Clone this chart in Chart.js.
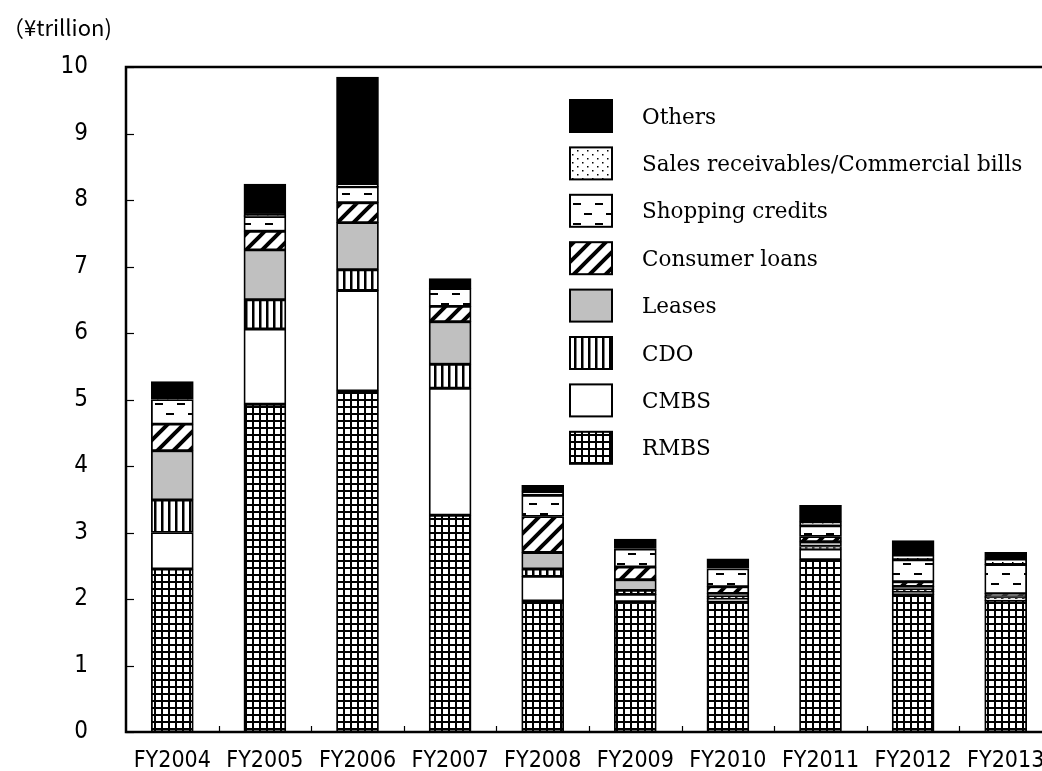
<!DOCTYPE html>
<html>
<head>
<meta charset="utf-8">
<script src="https://cdn.jsdelivr.net/npm/chart.js@4/dist/chart.umd.min.js"></script>
<style>
  html, body { margin: 0; padding: 0; background: #fff; overflow: hidden; }
  #wrap { position: relative; width: 1042px; height: 771px; }
</style>
</head>
<body>
<div id="wrap"><canvas id="securitization"></canvas></div>
<script>
const fiscalYears = ['FY2004', 'FY2005', 'FY2006', 'FY2007', 'FY2008', 'FY2009', 'FY2010', 'FY2011', 'FY2012', 'FY2013'];
const yTicks = [0, 1, 2, 3, 4, 5, 6, 7, 8, 9, 10];

// issuance by underlying asset (¥ trillion)
const rmbs     = [2.45, 4.93, 5.13, 3.26, 1.97, 1.96, 1.96, 2.59, 2.07, 1.98];
const cmbs     = [0.55, 1.13, 1.51, 1.91, 0.37, 0.11, 0.045, 0.16, 0.04, 0.02];
const cdo      = [0.49, 0.44, 0.31, 0.36, 0.11, 0.06, 0.03, 0.04, 0.03, 0.02];
const leases   = [0.74, 0.75, 0.71, 0.64, 0.25, 0.16, 0.05, 0.07, 0.05, 0.02];
const consumer = [0.40, 0.28, 0.30, 0.23, 0.54, 0.19, 0.10, 0.08, 0.07, 0.04];
const shopping = [0.37, 0.22, 0.24, 0.27, 0.32, 0.27, 0.27, 0.16, 0.33, 0.44];
const salesRec = [0, 0.02, 0.04, 0, 0.05, 0, 0, 0.06, 0.07, 0.08];
const others   = [0.27, 0.47, 1.61, 0.15, 0.10, 0.15, 0.15, 0.25, 0.22, 0.10];

const seriesNames = ['RMBS', 'CMBS', 'CDO', 'Leases', 'Consumer loans', 'Shopping credits',
  'Sales receivables/Commercial bills', 'Others'];
const seriesValues = [rmbs, cmbs, cdo, leases, consumer, shopping, salesRec, others];

// ---- fill patterns ----
function tile(w, h, paint) {
  const c = document.createElement('canvas');
  c.width = w; c.height = h;
  const g = c.getContext('2d');
  g.fillStyle = '#fff';
  g.fillRect(0, 0, w, h);
  g.fillStyle = '#000';
  g.strokeStyle = '#000';
  paint(g);
  return g.createPattern(c, 'repeat');
}

const gridFill = tile(7, 7, g => {
  g.fillRect(0, 0, 2, 7);
  g.fillRect(0, 0, 7, 2);
});
const stripeFill = tile(7, 4, g => {
  g.fillRect(0, 0, 2.5, 4);
});
const diagonalFill = tile(16, 16, g => {
  g.lineWidth = 4;
  g.beginPath();
  g.moveTo(-4, 20); g.lineTo(20, -4);
  g.moveTo(-4, 4); g.lineTo(4, -4);
  g.moveTo(12, 20); g.lineTo(20, 12);
  g.stroke();
});
const dashFill = tile(22, 20, g => {
  g.fillRect(1, 3, 8, 2);
  g.fillRect(12, 13, 8, 2);
});
const dotFill = tile(10, 8, g => {
  g.fillRect(2, 2, 1.5, 1.5);
  g.fillRect(7, 6, 1.5, 1.5);
});

const seriesFills = [gridFill, '#ffffff', stripeFill, '#c0c0c0', diagonalFill, dashFill, dotFill, '#000000'];

const datasets = seriesNames.map((name, i) => ({
  label: name,
  data: seriesValues[i],
  backgroundColor: seriesFills[i],
  borderColor: '#000',
  borderWidth: ctx => (ctx.raw ? 1.8 : 0),
  borderSkipped: false,
  barThickness: 42
}));

const tickFamily = '"Liberation Sans Narrow", "DejaVu Sans Condensed"';
const PLOT_WIDTH = 926; // plot frame is wider than the page, its right edge is cut off

const widenPlot = {
  id: 'widenPlot',
  afterLayout(chart) {
    const x = chart.scales.x;
    x.width = PLOT_WIDTH;
    x.right = x.left + PLOT_WIDTH;
    x.configure();
    chart.chartArea.right = x.right;
    chart.chartArea.width = PLOT_WIDTH;
  }
};

// frame, inner tick marks, unit label and legend
const decorations = {
  id: 'decorations',
  afterDraw(chart) {
    const { ctx, chartArea: a, scales: { y } } = chart;
    ctx.save();
    ctx.strokeStyle = '#000';
    ctx.lineWidth = 1.2;
    yTicks.forEach(v => {
      const py = Math.round(y.getPixelForValue(v)) + 0.5;
      ctx.beginPath(); ctx.moveTo(a.left, py); ctx.lineTo(a.left + 8, py); ctx.stroke();
    });
    const step = (a.right - a.left) / fiscalYears.length;
    for (let i = 1; i < fiscalYears.length; i++) {
      const px = Math.round(a.left + i * step) + 0.5;
      ctx.beginPath(); ctx.moveTo(px, a.bottom); ctx.lineTo(px, a.bottom - 6); ctx.stroke();
    }
    ctx.lineWidth = 2.5;
    ctx.strokeRect(a.left, a.top, a.right - a.left, a.bottom - a.top);

    ctx.fillStyle = '#000';
    ctx.font = '22px "Noto Sans CJK JP"';
    ctx.textBaseline = 'middle';
    ctx.textAlign = 'left';
    ctx.fillText('（¥trillion)', 2, 28);

    ctx.font = '21.5px "DejaVu Serif"';
    const items = chart.data.datasets.slice().reverse();
    items.forEach((ds, i) => {
      const top = 100 + i * 47.4;
      ctx.fillStyle = ds.backgroundColor;
      ctx.fillRect(570, top, 42, 32);
      ctx.lineWidth = 2;
      ctx.strokeRect(570, top, 42, 32);
      ctx.fillStyle = '#000';
      ctx.fillText(ds.label, 642, top + 18);
    });
    ctx.restore();
  }
};

new Chart(document.getElementById('securitization'), {
  type: 'bar',
  data: { labels: fiscalYears, datasets },
  options: {
    responsive: true,
    maintainAspectRatio: false,
    animation: false,
    layout: { padding: { top: 67, right: 0, bottom: 0, left: 0 } },
    plugins: { legend: { display: false }, tooltip: { enabled: false } },
    scales: {
      x: {
        stacked: true,
        grid: { display: false, drawTicks: false },
        border: { display: false },
        ticks: {
          color: '#000',
          padding: 15,
          autoSkip: false,
          maxRotation: 0,
          font: { family: tickFamily, size: 23 }
        },
        afterFit: s => {
          s.height = 39;
          s.paddingLeft = 0;
          s.paddingRight = 0;
        }
      },
      y: {
        stacked: true,
        min: 0,
        max: 10,
        grid: { display: false, drawTicks: false },
        border: { display: false },
        afterBuildTicks: s => { s.ticks = yTicks.map(v => ({ value: v })); },
        ticks: {
          color: '#000',
          padding: 38,
          font: { family: tickFamily, size: 24 }
        },
        afterFit: s => {
          s.width = 126;
          s.paddingTop = 0;
          s.paddingBottom = 0;
        }
      }
    }
  },
  plugins: [widenPlot, decorations]
});
</script>
</body>
</html>
